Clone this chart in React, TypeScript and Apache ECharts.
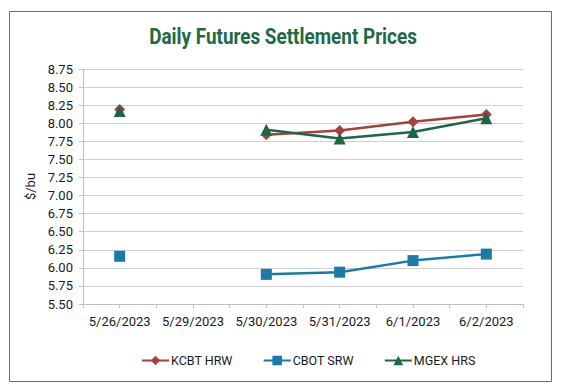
import React, { useEffect, useRef } from "react";
import * as echarts from "echarts";

const categories = ["5/26/2023", "5/29/2023", "5/30/2023", "5/31/2023", "6/1/2023", "6/2/2023"];
const kcbtHrw = [8.19, null, 7.84, 7.9, 8.02, 8.12];
const cbotSrw = [6.16, null, 5.91, 5.94, 6.1, 6.19];
const mgexHrs = [8.17, null, 7.91, 7.79, 7.88, 8.07];
const yTicks = { min: 5.5, max: 8.75, interval: 0.25 };

const RED = "#A2423D";
const BLUE = "#1A7AA8";
const GREEN = "#1E6645";
const FONT = "'Roboto', sans-serif";

export default function App() {
  const ref = useRef<HTMLDivElement>(null);
  useEffect(() => {
    const chart = echarts.init(ref.current!, null, { renderer: "svg" });
    const mk = (name: string, data: (number | null)[], color: string, symbol: string, size: number) => ({
      name,
      type: "line",
      data,
      xAxisIndex: 0,
      symbol,
      symbolSize: size,
      showAllSymbol: true,
      lineStyle: { color, width: 2.5 },
      itemStyle: { color },
      connectNulls: false,
    });
    chart.setOption({
      animation: false,
      backgroundColor: "#fff",
      graphic: [
        {
          type: "rect",
          shape: { x: 9.5, y: 11.5, width: 542, height: 370 },
          style: { fill: "none", stroke: "#6b6b6b", lineWidth: 1 },
          z: -1,
        },
        {
          type: "text",
          x: 283,
          y: 36,
          scaleX: 0.86,
          style: {
            text: "Daily Futures Settlement Prices",
            font: `bold 22px ${FONT}`,
            fill: "#1D6A45",
            align: "center",
            verticalAlign: "middle",
          },
        },
      ],
      legend: {
        top: 349,
        left: 136,
        itemWidth: 27,
        itemHeight: 12,
        itemGap: 30,
        textStyle: { fontFamily: FONT, fontSize: 12.5, color: "#1a1a1a", padding: [0, 0, 0, -3] },
        data: ["KCBT HRW", "CBOT SRW", "MGEX HRS"],
      },
      grid: { left: 83, right: 38, top: 69, bottom: 85 },
      xAxis: [
        {
          type: "category",
          data: categories,
          boundaryGap: true,
          axisLine: { lineStyle: { color: "#bfbfbf" } },
          axisTick: { show: true, length: 4, inside: false, lineStyle: { color: "#bfbfbf" } },
          axisLabel: { fontFamily: FONT, fontSize: 13, color: "#1a1a1a", margin: 11, interval: 0 },
        },
        {
          type: "category",
          data: categories,
          position: "bottom",
          boundaryGap: true,
          axisLine: { show: false },
          axisTick: { show: true, alignWithLabel: true, length: 4, lineStyle: { color: "#bfbfbf" } },
          axisLabel: { show: false },
        },
      ],
      yAxis: {
        type: "value",
        min: yTicks.min,
        max: yTicks.max,
        interval: yTicks.interval,
        name: "$/bu",
        nameLocation: "middle",
        nameGap: 34,
        nameRotate: 90,
        nameTextStyle: { fontFamily: FONT, fontSize: 13, color: "#1a1a1a" },
        axisLine: { show: true, lineStyle: { color: "#bfbfbf" } },
        axisTick: { show: true, length: 4, lineStyle: { color: "#bfbfbf" } },
        axisLabel: {
          fontFamily: FONT,
          fontSize: 13,
          color: "#1a1a1a",
          margin: 10,
          formatter: (v: number) => v.toFixed(2),
        },
        splitLine: { lineStyle: { color: "#d0d0d0", width: 1.2 } },
      },
      series: [
        mk("KCBT HRW", kcbtHrw, RED, "diamond", 11),
        mk("CBOT SRW", cbotSrw, BLUE, "rect", 11),
        mk("MGEX HRS", mgexHrs, GREEN, "triangle", 12),
      ],
    });
    return () => chart.dispose();
  }, []);
  return (
    <div
      ref={ref}
      style={{ position: "absolute", left: 0, top: 0, width: 561, height: 389 }}
    />
  );
}
